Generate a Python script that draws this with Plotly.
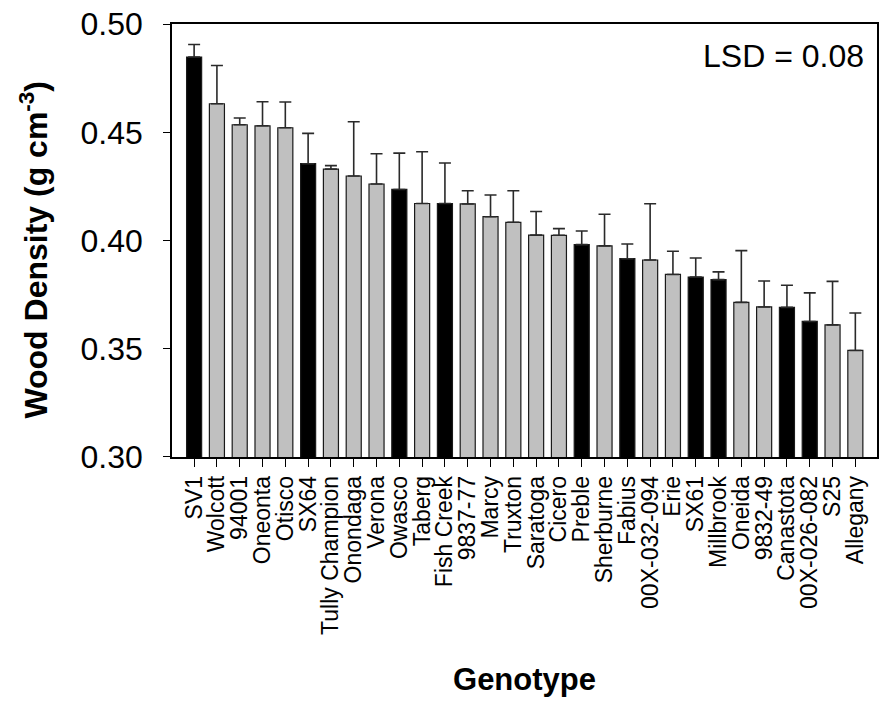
import plotly.graph_objects as go

genotypes = ["SV1", "Wolcott", "94001", "Oneonta", "Otisco", "SX64", "Tully Champion",
             "Onondaga", "Verona", "Owasco", "Taberg", "Fish Creek", "9837-77", "Marcy",
             "Truxton", "Saratoga", "Cicero", "Preble", "Sherburne", "Fabius",
             "00X-032-094", "Erie", "SX61", "Millbrook", "Oneida", "9832-49",
             "Canastota", "00X-026-082", "S25", "Allegany"]

density = [0.4848, 0.4632, 0.4535, 0.4530, 0.4521, 0.4355, 0.4330, 0.4298, 0.4261,
           0.4236, 0.4171, 0.4171, 0.4169, 0.4110, 0.4084, 0.4025, 0.4024, 0.3981,
           0.3975, 0.3916, 0.3910, 0.3843, 0.3831, 0.3819, 0.3714, 0.3693, 0.3691,
           0.3626, 0.3610, 0.3492]

std_err = [0.0058, 0.0177, 0.0031, 0.0111, 0.0119, 0.0140, 0.0016, 0.0251, 0.0140,
           0.0168, 0.0239, 0.0187, 0.0061, 0.0100, 0.0146, 0.0109, 0.0031, 0.0063,
           0.0146, 0.0068, 0.0260, 0.0107, 0.0088, 0.0036, 0.0239, 0.0120, 0.0102,
           0.0132, 0.0201, 0.0173]

# group membership: True = dark-bar genotypes
dark_group = [True, False, False, False, False, True, False, False, False, True,
              False, True, False, False, False, False, False, True, False, True,
              False, False, True, True, False, False, True, True, False, False]

y_ticks = [0.30, 0.35, 0.40, 0.45, 0.50]
lsd_label = "LSD = 0.08"
y_title = "<b>Wood Density (g cm<sup>-3</sup>)</b>"
x_title = "<b>Genotype</b>"

FONT = "Liberation Sans, Arial, sans-serif"

colors = ["#000000" if d else "#c0c0c0" for d in dark_group]

fig = go.Figure()
fig.add_trace(go.Bar(
    x=genotypes,
    y=density,
    width=0.66,
    marker=dict(color=colors, line=dict(color="#1a1a1a", width=1.2)),
    error_y=dict(type="data", symmetric=False, array=std_err,
                 arrayminus=[0] * len(std_err),
                 color="#2a2a2a", thickness=1.6, width=6),
    showlegend=False,
))

fig.update_layout(
    width=892, height=711,
    margin=dict(l=172, r=15, t=24, b=254),
    paper_bgcolor="white", plot_bgcolor="white",
    font=dict(family=FONT, color="black"),
    annotations=[
        dict(text=lsd_label, xref="paper", yref="paper", x=0.985, y=0.925,
             xanchor="right", yanchor="middle", showarrow=False,
             font=dict(size=32, family=FONT, color="black")),
        dict(text=y_title, xref="paper", yref="paper", x=-0.197, y=0.5,
             xanchor="center", yanchor="middle", textangle=-90, showarrow=False,
             yshift=-9,
             font=dict(size=32, family=FONT, color="black")),
    ],
)

fig.update_xaxes(
    type="category",
    range=[-0.97, 29.95],
    tickmode="array", tickvals=genotypes, ticktext=genotypes,
    automargin=False,
    showline=True, linecolor="black", linewidth=1.5, mirror=True,
    ticks="outside", ticklen=8, tickwidth=1.2, tickcolor="black",
    tickangle=-90, tickfont=dict(size=23, family=FONT),
    ticklabelstandoff=0,
    showgrid=False,
    title=dict(text=x_title, font=dict(size=31, family=FONT), standoff=34),
)

fig.update_yaxes(
    range=[0.29995, 0.50005],
    tickvals=y_ticks,
    ticktext=[f"{v:.2f}" for v in y_ticks],
    ticklabeloverflow="allow",
    automargin=False,
    showline=True, linecolor="black", linewidth=1.5, mirror=True,
    ticks="outside", ticklen=7, tickwidth=1.2, tickcolor="black",
    tickfont=dict(size=32, family=FONT),
    ticklabelstandoff=14,
    showgrid=False, zeroline=False,
)

# remove the default page margin so the figure sits at the window's corner
fig.write_html("out.html", config={"displayModeBar": False},
               post_script="document.body.style.margin='0px';")
